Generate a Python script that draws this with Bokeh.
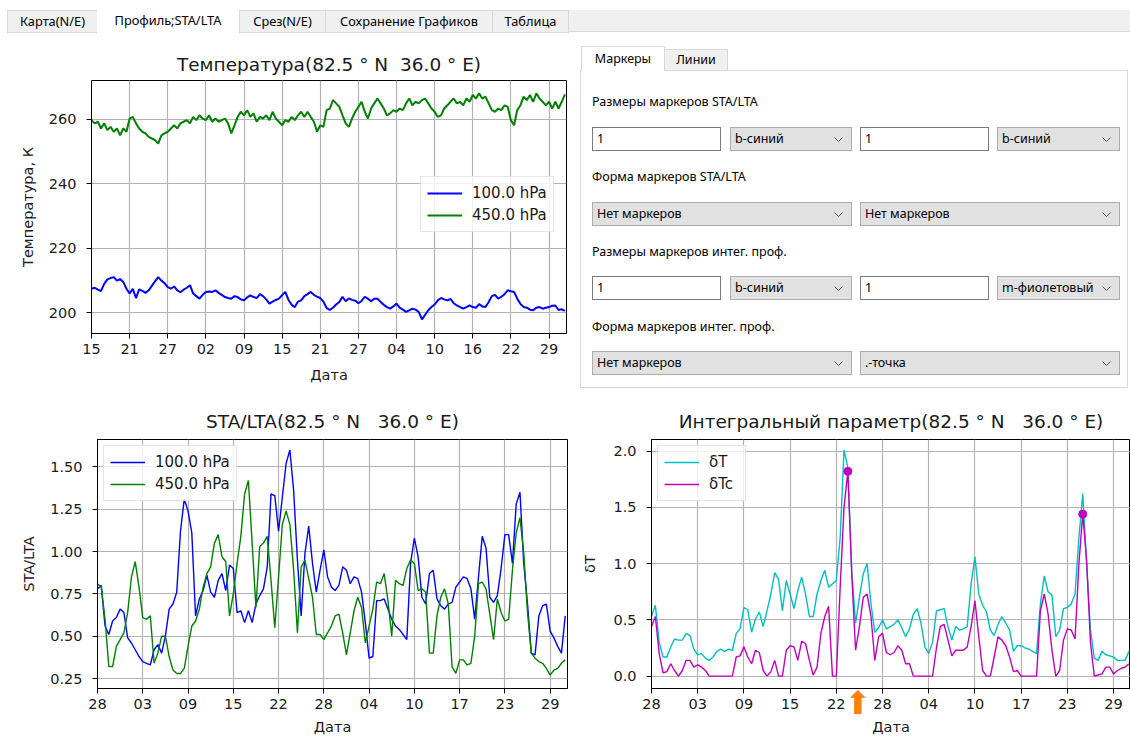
from bokeh.plotting import figure
from bokeh.models import (FixedTicker, NumeralTickFormatter, Legend, LegendItem, Div,
                          LinearAxis, Range1d, ColumnDataSource)
from bokeh.layouts import column, row
from bokeh.embed import file_html
from bokeh.resources import INLINE

# ------------------------------------------------------------------ data
# Temperature profile, one value every half day
temp_step = 0.5
temp_tick_days = [0, 6, 12, 18, 24, 30, 36, 42, 48, 54, 60, 66, 72]
temp_tick_labels = ["15", "21", "27", "02", "09", "15", "21", "27", "04", "10", "16", "22", "29"]
temp_100 = [
    207.5, 207.8, 207.2, 206.8, 209.0, 210.4, 210.8, 211.1, 210.0, 210.5,
    209.6, 207.5, 206.0, 207.5, 204.6, 207.3, 206.8, 206.2, 207.0, 208.4,
    209.8, 211.1, 210.0, 209.2, 208.0, 207.5, 208.2, 207.0, 206.4, 207.2,
    207.8, 208.6, 206.0, 205.2, 204.4, 205.6, 206.5, 206.6, 206.5, 207.0,
    206.2, 205.6, 204.9, 204.6, 204.4, 205.2, 204.9, 204.2, 203.9, 204.8,
    205.4, 204.9, 204.6, 205.8, 205.2, 204.2, 202.9, 203.5, 204.0, 204.4,
    205.5, 206.5, 204.0, 202.5, 201.8, 203.5, 203.9, 205.2, 205.8, 206.5,
    205.6, 205.0, 204.6, 203.5, 201.5, 200.9, 201.6, 202.6, 203.4, 205.0,
    203.6, 204.5, 204.0, 203.8, 203.0, 203.7, 205.0, 204.4, 203.6, 204.4,
    204.4, 203.4, 202.5, 201.8, 201.3, 202.0, 202.9, 201.6, 201.0, 200.3,
    200.8, 201.3, 201.0, 200.3, 198.0, 199.4, 200.8, 201.8, 202.6, 203.9,
    204.6, 204.2, 203.9, 204.3, 203.0, 202.3, 201.8, 201.3, 201.8, 202.3,
    201.8, 201.6, 202.7, 202.0, 201.8, 203.4, 205.2, 205.6, 204.4, 205.0,
    205.8, 207.0, 206.7, 206.5, 204.4, 202.8, 201.8, 201.6, 201.0, 200.8,
    201.6, 201.8, 201.3, 201.6, 201.8, 202.2, 202.3, 200.9, 201.1, 200.6,
]
temp_450 = [
    259.8, 258.8, 259.3, 257.2, 258.8, 256.7, 257.7, 256.2, 257.2, 255.1,
    257.2, 256.2, 260.3, 260.8, 258.8, 257.2, 256.2, 255.7, 254.6, 254.1,
    253.6, 252.5, 255.1, 255.7, 256.2, 257.2, 258.2, 257.2, 258.8, 259.3,
    259.8, 258.8, 260.8, 259.8, 261.3, 260.3, 259.8, 261.3, 259.3, 260.3,
    259.3, 259.8, 260.3, 258.8, 255.7, 258.2, 260.8, 262.4, 261.3, 262.9,
    260.8, 261.9, 259.3, 260.8, 260.3, 261.3, 259.8, 262.4, 260.3, 259.3,
    258.2, 259.8, 259.3, 260.8, 259.8, 261.3, 262.4, 260.8, 262.4, 260.8,
    259.3, 256.2, 258.2, 257.7, 262.9, 263.4, 266.0, 265.0, 263.9, 261.3,
    258.8, 257.7, 260.3, 262.4, 263.9, 265.5, 262.4, 260.3, 263.4, 265.0,
    266.5, 265.0, 263.4, 261.3, 261.9, 262.9, 262.4, 263.4, 262.9, 265.0,
    266.5, 264.4, 265.5, 265.0, 266.0, 266.5, 265.0, 263.4, 262.4, 260.8,
    261.3, 263.4, 264.4, 265.5, 266.5, 265.0, 265.5, 264.4, 266.5, 265.5,
    267.6, 266.5, 268.1, 266.5, 267.1, 265.0, 262.9, 262.4, 263.4, 262.9,
    264.4, 263.9, 259.8, 258.2, 262.9, 264.4, 267.1, 266.0, 267.6, 265.5,
    268.1, 266.5, 265.5, 264.4, 265.5, 263.4, 265.5, 263.4, 265.5, 267.8,
]

# STA/LTA and integral parameter, one value every half day
sta_step = 0.5
sta_tick_days = [0, 6, 12, 18, 24, 30, 36, 42, 48, 54, 60]
sta_tick_labels = ["28", "03", "09", "15", "22", "28", "04", "10", "17", "23", "29"]
sta_100 = [
    0.78, 0.80, 0.56, 0.51, 0.59, 0.61, 0.66, 0.64, 0.49, 0.46,
    0.42, 0.38, 0.35, 0.34, 0.33, 0.42, 0.45, 0.40, 0.50, 0.66,
    0.69, 0.76, 1.12, 1.31, 1.24, 1.11, 0.62, 0.72, 0.77, 0.86,
    0.76, 0.73, 0.83, 0.87, 0.77, 0.92, 0.90, 0.64, 0.65, 0.58,
    0.65, 0.58, 0.69, 0.74, 0.78, 0.91, 1.34, 1.33, 1.12, 1.32,
    1.52, 1.60, 1.36, 0.95, 0.62, 0.99, 1.15, 0.93, 0.76, 0.89,
    1.01, 0.85, 0.79, 0.77, 0.80, 0.91, 0.89, 0.81, 0.85, 0.84,
    0.76, 0.58, 0.37, 0.38, 0.71, 0.71, 0.72, 0.66, 0.60, 0.56,
    0.54, 0.51, 0.48, 0.93, 1.08, 0.97, 0.73, 0.69, 0.87, 0.89,
    0.72, 0.68, 0.66, 0.69, 0.70, 0.79, 0.82, 0.85, 0.84, 0.78,
    0.60, 0.85, 1.09, 1.02, 0.73, 0.70, 0.74, 0.90, 1.10, 1.10,
    0.93, 1.28, 1.35, 0.93, 0.69, 0.40, 0.39, 0.62, 0.68, 0.69,
    0.53, 0.49, 0.44, 0.40, 0.62,
]
sta_450 = [
    0.81, 0.79, 0.60, 0.32, 0.32, 0.44, 0.48, 0.52, 0.64, 0.85,
    0.94, 0.79, 0.61, 0.60, 0.62, 0.34, 0.40, 0.50, 0.50, 0.38,
    0.30, 0.28, 0.28, 0.31, 0.44, 0.56, 0.59, 0.66, 0.79, 0.87,
    0.91, 1.05, 1.10, 0.97, 0.94, 0.62, 0.75, 0.93, 1.09, 1.34,
    1.42, 1.05, 0.67, 1.03, 1.05, 1.09, 0.83, 0.55, 0.85, 1.16,
    1.24, 1.16, 0.89, 0.52, 0.91, 0.95, 0.84, 0.73, 0.51, 0.51,
    0.48, 0.52, 0.56, 0.62, 0.63, 0.52, 0.39, 0.52, 0.65, 0.73,
    0.67, 0.46, 0.56, 0.66, 0.82, 0.81, 0.87, 0.71, 0.50, 0.83,
    0.81, 0.80, 0.90, 0.95, 0.93, 0.77, 0.78, 0.76, 0.40, 0.40,
    0.62, 0.73, 0.78, 0.69, 0.32, 0.28, 0.36, 0.36, 0.33, 0.34,
    0.50, 0.81, 0.82, 0.78, 0.63, 0.48, 0.72, 0.64, 0.59, 0.60,
    0.89, 1.11, 1.20, 0.99, 0.64, 0.40, 0.37, 0.35, 0.34, 0.31,
    0.27, 0.30, 0.31, 0.34, 0.36,
]
delta_t = [
    0.53, 0.63, 0.30, 0.17, 0.17, 0.26, 0.33, 0.32, 0.32, 0.38,
    0.36, 0.24, 0.19, 0.20, 0.16, 0.14, 0.17, 0.22, 0.24, 0.22,
    0.24, 0.23, 0.38, 0.42, 0.61, 0.59, 0.39, 0.51, 0.57, 0.44,
    0.58, 0.73, 0.92, 0.86, 0.58, 0.85, 0.73, 0.60, 0.76, 0.88,
    0.73, 0.53, 0.53, 0.73, 0.85, 0.94, 0.79, 0.82, 0.85, 1.23,
    2.01, 1.85, 0.94, 0.47, 0.70, 0.91, 1.00, 0.64, 0.39, 0.43,
    0.50, 0.42, 0.44, 0.46, 0.50, 0.43, 0.35, 0.42, 0.55, 0.60,
    0.47, 0.26, 0.20, 0.30, 0.58, 0.59, 0.60, 0.44, 0.32, 0.44,
    0.41, 0.42, 0.44, 0.82, 1.06, 0.73, 0.63, 0.57, 0.41, 0.36,
    0.46, 0.53, 0.47, 0.41, 0.22, 0.27, 0.27, 0.25, 0.24, 0.22,
    0.20, 0.64, 0.89, 0.75, 0.72, 0.35, 0.41, 0.60, 0.61, 0.64,
    0.73, 1.23, 1.62, 1.00, 0.41, 0.16, 0.14, 0.22, 0.19, 0.18,
    0.17, 0.14, 0.14, 0.14, 0.22,
]
delta_tc = [
    0.44, 0.53, 0.20, 0.03, 0.04, 0.11, 0.05, 0.00, 0.05, 0.14,
    0.14, 0.08, 0.10, 0.08, 0.05, 0.00, 0.00, 0.00, 0.00, 0.00,
    0.00, 0.00, 0.17, 0.18, 0.26, 0.17, 0.11, 0.23, 0.21, 0.05,
    0.00, 0.04, 0.14, 0.00, 0.00, 0.23, 0.27, 0.26, 0.14, 0.31,
    0.29, 0.14, 0.01, 0.08, 0.38, 0.53, 0.62, 0.00, 0.00, 0.79,
    1.50, 1.82, 0.91, 0.23, 0.44, 0.70, 0.73, 0.53, 0.14, 0.35,
    0.38, 0.21, 0.19, 0.21, 0.27, 0.23, 0.11, 0.11, 0.00, 0.00,
    0.00, 0.00, 0.00, 0.00, 0.25, 0.44, 0.46, 0.32, 0.18, 0.23,
    0.23, 0.23, 0.26, 0.44, 0.67, 0.35, 0.05, 0.00, 0.00, 0.17,
    0.35, 0.32, 0.27, 0.17, 0.04, 0.05, 0.00, 0.00, 0.00, 0.00,
    0.00, 0.58, 0.73, 0.55, 0.23, 0.00, 0.05, 0.32, 0.42, 0.41,
    0.33, 1.00, 1.44, 1.03, 0.30, 0.00, 0.01, 0.02, 0.08, 0.08,
    0.02, 0.05, 0.07, 0.08, 0.11,
]
peak_days = [25.5, 56.0]
peak_vals = [1.82, 1.44]
event_day = 26.8

# GUI texts
tab_names = ["Карта(N/E)", "Профиль;STA/LTA", "Срез(N/E)", "Сохранение Графиков", "Таблица"]
sub_tab_names = ["Маркеры", "Линии"]
field_labels = ["Размеры маркеров STA/LTA", "Форма маркеров STA/LTA",
                "Размеры маркеров интег. проф.", "Форма маркеров интег. проф."]
size_rows = [["1", "b-синий", "1", "b-синий"], ["1", "b-синий", "1", "m-фиолетовый"]]
shape_rows = [["Нет маркеров", "Нет маркеров"], ["Нет маркеров", ".-точка"]]

# ------------------------------------------------------------------ helpers
FONT = "DejaVu Sans"
NB = "\u00a0"


def base_style(p, xticks, xlabels, yticks, yfmt, ylabel, ylab_standoff, xlab_standoff=7):
    p.xaxis.ticker = FixedTicker(ticks=xticks)
    p.xaxis.major_label_overrides = {t: l for t, l in zip(xticks, xlabels)}
    p.yaxis.ticker = FixedTicker(ticks=yticks)
    if yfmt:
        p.yaxis.formatter = NumeralTickFormatter(format=yfmt)
    for ax in (p.xaxis[0], p.yaxis[0]):
        ax.major_label_text_font = FONT
        ax.major_label_text_font_size = "14.5px"
        ax.major_label_text_color = "#1a1a1a"
        ax.axis_label_text_font = FONT
        ax.axis_label_text_font_size = "14.5px"
        ax.axis_label_text_font_style = "normal"
        ax.axis_label_text_color = "#1a1a1a"
        ax.major_tick_out = 5
        ax.major_tick_in = 0
        ax.minor_tick_out = 0
        ax.minor_tick_in = 0
        ax.axis_line_color = "black"
        ax.major_tick_line_color = "black"
    p.xaxis.axis_label = "Дата"
    p.xaxis.major_label_standoff = 5
    p.xaxis.axis_label_standoff = xlab_standoff
    p.yaxis.axis_label = ylabel
    p.yaxis.major_label_standoff = 10
    p.yaxis.axis_label_standoff = ylab_standoff
    p.grid.grid_line_color = "#b3b3b3"
    p.grid.grid_line_width = 1.2
    p.outline_line_color = "black"
    p.outline_line_width = 1
    p.outline_line_alpha = 1
    p.title.text_font = FONT
    p.title.text_font_size = "18.5px"
    p.title.text_font_style = "normal"
    p.title.text_color = "#1a1a1a"
    p.title.align = "center"


def legend_style(lg, label_width=20):
    lg.label_text_font = FONT
    lg.label_text_font_size = "15px"
    lg.label_text_color = "#1a1a1a"
    lg.glyph_width = 35
    lg.glyph_height = 20
    lg.label_height = 20
    lg.label_width = label_width
    lg.label_standoff = 10
    lg.padding = 6
    lg.spacing = 2
    lg.border_line_color = "#cccccc"
    lg.border_line_width = 1
    lg.background_fill_alpha = 0.8


# ------------------------------------------------------------------ chart 1
temp_days = [i * temp_step for i in range(len(temp_100))]
src1 = ColumnDataSource(dict(d=temp_days, a=temp_100, b=temp_450))
p1 = figure(width=575, height=360, x_range=Range1d(0, 74.75), y_range=Range1d(193.6, 272.1),
            output_backend="svg", toolbar_location=None,
            title=f"Температура(82.5{NB}°{NB}N{NB}{NB}36.0{NB}°{NB}E)",
            min_border_left=91, min_border_right=9, min_border_top=40, min_border_bottom=67)
base_style(p1, temp_tick_days, temp_tick_labels, [200, 220, 240, 260], None,
           "Температура, К", 10, xlab_standoff=10)
p1.title.standoff = 12
r1a = p1.line("d", "a", source=src1, line_color="#0000ff", line_width=2)
r1b = p1.line("d", "b", source=src1, line_color="#008000", line_width=2)
lg1 = Legend(items=[LegendItem(label="100.0 hPa", renderers=[r1a]),
                    LegendItem(label="450.0 hPa", renderers=[r1b])],
             location=(329, 101), margin=0)
legend_style(lg1)
p1.add_layout(lg1)

# ------------------------------------------------------------------ chart 2
sta_days = [i * sta_step for i in range(len(sta_100))]
src2 = ColumnDataSource(dict(d=sta_days, a=sta_100, b=sta_450, c=delta_t, m=delta_tc))
p2 = figure(width=575, height=340, x_range=Range1d(0, 62.3), y_range=Range1d(0.191, 1.662),
            output_backend="svg", toolbar_location=None,
            title=f"STA/LTA(82.5{NB}°{NB}N{NB}{NB}{NB}36.0{NB}°{NB}E)",
            min_border_left=97, min_border_right=8, min_border_top=38, min_border_bottom=52)
base_style(p2, sta_tick_days, sta_tick_labels, [0.25, 0.5, 0.75, 1.0, 1.25, 1.5], "0.00",
           "STA/LTA", 10)
p2.title.standoff = 16
r2a = p2.line("d", "a", source=src2, line_color="#0000ff", line_width=1.4)
r2b = p2.line("d", "b", source=src2, line_color="#008000", line_width=1.4)
lg2 = Legend(items=[LegendItem(label="100.0 hPa", renderers=[r2a]),
                    LegendItem(label="450.0 hPa", renderers=[r2b])],
             location="top_left", margin=6)
legend_style(lg2)
p2.add_layout(lg2)

# ------------------------------------------------------------------ chart 3
p3 = figure(width=555, height=340, x_range=Range1d(0, 62.2), y_range=Range1d(-0.110, 2.103),
            output_backend="svg", toolbar_location=None,
            title=f"Интегральный параметр(82.5{NB}°{NB}N{NB}{NB}{NB}36.0{NB}°{NB}E)",
            min_border_left=76, min_border_right=0, min_border_top=38, min_border_bottom=52)
base_style(p3, sta_tick_days, sta_tick_labels, [0.0, 0.5, 1.0, 1.5, 2.0], "0.0", "δT", 12)
p3.title.standoff = 16
r3a = p3.line("d", "c", source=src2, line_color="#00bfbf", line_width=1.4)
r3b = p3.line("d", "m", source=src2, line_color="#bf00bf", line_width=1.4)
p3.scatter(peak_days, peak_vals, size=8, color="#bf00bf")
lg3 = Legend(items=[LegendItem(label="δT", renderers=[r3a]),
                    LegendItem(label="δTc", renderers=[r3b])],
             location="top_left", margin=6)
legend_style(lg3, label_width=30)
p3.add_layout(lg3)
# event marker under the date axis: a second bottom axis with a single tick,
# pulled back up (negative standoff) so its label sits just below the frame
event_axis = LinearAxis(ticker=FixedTicker(ticks=[event_day]),
                        major_label_overrides={event_day: "⬆"})
event_axis.axis_line_color = None
event_axis.major_tick_line_color = None
event_axis.minor_tick_line_color = None
event_axis.major_tick_out = 0
event_axis.major_tick_in = 0
event_axis.major_label_standoff = -54
event_axis.major_label_text_font = FONT
event_axis.major_label_text_font_size = "32px"
event_axis.major_label_text_color = "#ff7f0e"
p3.add_layout(event_axis, "below")

# ------------------------------------------------------------------ GUI parts
TAB_FONT = "font-family:'Noto Sans',sans-serif;font-size:12.8px;color:#000;"
UI_FONT = "font-family:'Noto Sans',sans-serif;font-size:12.5px;color:#000;"
tab_edges = [7, 97, 239, 325, 492, 568]
h = [f'<div style="position:relative;width:1130px;height:40px;background:#fff;{TAB_FONT}">',
     '<div style="position:absolute;left:7px;top:10px;width:1123px;height:22px;'
     'background:#f0f0f0;border-bottom:1px solid #d9d9d9;"></div>']
for i, name in enumerate(tab_names):
    l, r = tab_edges[i], tab_edges[i + 1]
    if i == 1:
        h.append(f'<div style="position:absolute;left:{l}px;top:8px;width:{r - l}px;height:26px;'
                 f'background:#fff;line-height:24px;text-align:center;white-space:nowrap;">{name}</div>')
    else:
        h.append(f'<div style="position:absolute;left:{l}px;top:10px;width:{r - l + 1}px;height:23px;'
                 f'box-sizing:border-box;border:1px solid #d9d9d9;background:#f0f0f0;'
                 f'line-height:21px;text-align:center;white-space:nowrap;">{name}</div>')
h.append('</div>')
header = Div(text="".join(h), width=1130, height=40, margin=0)

CHEV = ('<svg width="9" height="5" style="position:absolute;right:8px;top:9px">'
        '<polyline points="0.5,0.5 4.5,4.5 8.5,0.5" fill="none" stroke="#555" stroke-width="1"/></svg>')


def textbox(x, y, w, txt):
    return (f'<div style="position:absolute;left:{x}px;top:{y}px;width:{w}px;height:24px;'
            f'box-sizing:border-box;border:1px solid #7a7a7a;background:#fff;padding-left:4px;'
            f'line-height:22px;">{txt}</div>')


def combo(x, y, w, txt):
    return (f'<div style="position:absolute;left:{x}px;top:{y}px;width:{w}px;height:24px;'
            f'box-sizing:border-box;border:1px solid #adadad;background:#e1e1e1;padding-left:4px;'
            f'line-height:22px;white-space:nowrap;">{txt}{CHEV}</div>')


f = [f'<div style="position:relative;width:555px;height:360px;background:#fff;{UI_FONT}">',
     '<div style="position:absolute;left:5px;top:30px;width:548px;height:318px;'
     'box-sizing:border-box;border:1px solid #d9d9d9;background:#fff;"></div>',
     f'<div style="position:absolute;left:6px;top:6px;width:84px;height:25px;box-sizing:border-box;'
     f'border:1px solid #d9d9d9;border-bottom:none;background:#fff;line-height:23px;'
     f'text-align:center;">{sub_tab_names[0]}</div>',
     f'<div style="position:absolute;left:89px;top:9px;width:64px;height:22px;box-sizing:border-box;'
     f'border:1px solid #d9d9d9;background:#f0f0f0;line-height:20px;'
     f'text-align:center;">{sub_tab_names[1]}</div>']
label_tops = [54, 129, 204, 279]
row_tops = [87, 162, 236, 311]
for k in range(4):
    f.append(f'<div style="position:absolute;left:17px;top:{label_tops[k]}px;white-space:nowrap;'
             f'line-height:16px;">{field_labels[k]}</div>')
for k, vals in enumerate(size_rows):
    y = row_tops[2 * k]
    f.append(textbox(17, y, 129, vals[0]))
    f.append(combo(155, y, 122, vals[1]))
    f.append(textbox(285, y, 129, vals[2]))
    f.append(combo(422, y, 123, vals[3]))
for k, vals in enumerate(shape_rows):
    y = row_tops[2 * k + 1]
    f.append(combo(17, y, 260, vals[0]))
    f.append(combo(285, y, 260, vals[1]))
f.append('</div>')
form = Div(text="".join(f), width=555, height=360, margin=0)

layout = column(header, row(p1, form, spacing=0), row(p2, p3, spacing=0), spacing=0)

open("out.html", "w").write(file_html(layout, INLINE))
